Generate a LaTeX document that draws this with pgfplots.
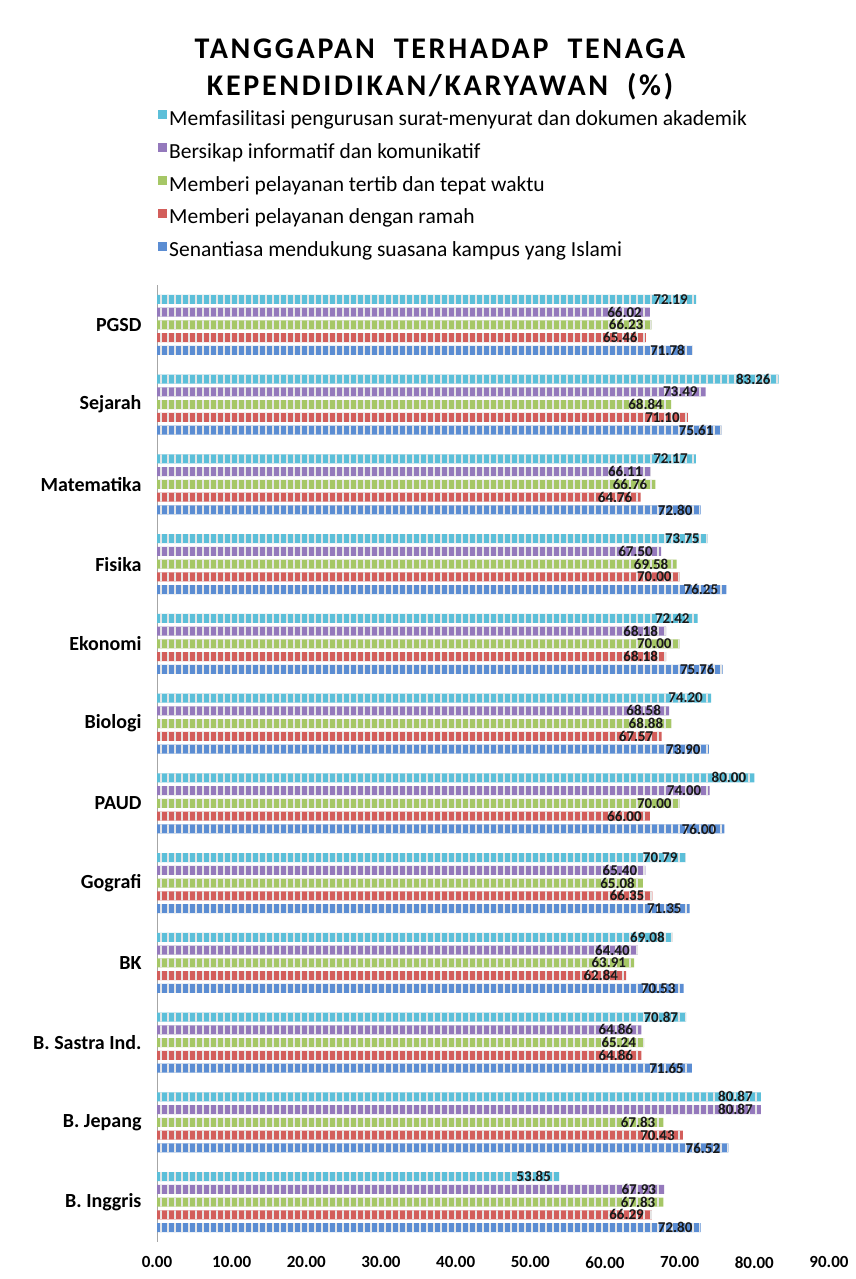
\documentclass[border=0pt]{standalone}
\usepackage{fontspec}
\setmainfont{Carlito}
\newfontfamily\titlefont[LetterSpace=9]{Carlito}
\usepackage{pgfplots}
\pgfplotsset{compat=1.18}
\usetikzlibrary{patterns.meta}
\definecolor{cbar}{HTML}{5CBFD9}
\definecolor{pbar}{HTML}{9479BC}
\definecolor{gbar}{HTML}{A6C766}
\definecolor{rbar}{HTML}{D35E5B}
\definecolor{bbar}{HTML}{5B8DD3}
\makeatletter
\tikzset{nopost/.code={\let\tikz@postactions\pgfutil@empty}}
\makeatother
\begin{document}
\begin{tikzpicture}
\path[use as bounding box] (0,0) rectangle (856pt,1279pt);
\node[font=\titlefont\bfseries\fontsize{30}{37}\selectfont, align=center] at (440pt,1210pt) {TANGGAPAN\ \ TERHADAP\ \ TENAGA\\KEPENDIDIKAN/KARYAWAN\ \ (\%)};
\begin{axis}[
  at={(157pt,37pt)}, anchor=south west,
  scale only axis, width=672pt, height=957pt,
  xbar, bar width=9pt,
  xmin=0, xmax=90, ymin=-0.5, ymax=11.5,
  xtick={0,10,...,90},
  ytick={0,...,11},
  yticklabels={B. Inggris, B. Jepang, B. Sastra Ind., BK, Gografi, PAUD, Biologi, Ekonomi, Fisika, Matematika, Sejarah, PGSD},
  axis lines*=left,
  x axis line style={draw=none},
  y axis line style={draw=gray!70, line width=0.8pt},
  major tick length=0pt,
  xticklabel style={font=\bfseries\fontsize{17}{17}\selectfont, yshift=-11pt, /pgf/number format/.cd, fixed, fixed zerofill, precision=2, assume math mode=true},
  yticklabel style={font=\bfseries\fontsize{20}{20}\selectfont, xshift=-12pt},
  point meta=x,
  nodes near coords={\pgfmathprintnumber[fixed,fixed zerofill,precision=2,assume math mode=true]{\pgfplotspointmeta}},
  every node near coord/.append style={font=\bfseries\fontsize{15}{15}\selectfont, anchor=east, inner sep=0pt, xshift=-8pt, text=black!90},
  every axis plot/.append style={draw=none, postaction={pattern={Lines[angle=90,distance=7pt,line width=1.4pt]}, pattern color=white!80!gray}},
  reverse legend,
  legend cell align=left,
  legend image code/.code={\fill[#1,nopost] (0pt,-1pt) rectangle (9pt,8pt);},
  legend style={at={(-0.003,1.187)}, anchor=north west, draw=none, fill=none, font=\fontsize{21.5}{21.5}\selectfont, row sep=12.5pt},
]
\addplot[fill=bbar, bar shift=-25.6pt] coordinates {(72.80,0) (76.52,1) (71.65,2) (70.53,3) (71.35,4) (76.00,5) (73.90,6) (75.76,7) (76.25,8) (72.80,9) (75.61,10) (71.78,11)};
\addlegendentry{Senantiasa mendukung suasana kampus yang Islami}
\addplot[fill=rbar, bar shift=-12.8pt] coordinates {(66.29,0) (70.43,1) (64.86,2) (62.84,3) (66.35,4) (66.00,5) (67.57,6) (68.18,7) (70.00,8) (64.76,9) (71.10,10) (65.46,11)};
\addlegendentry{Memberi pelayanan dengan ramah}
\addplot[fill=gbar, bar shift=0pt] coordinates {(67.83,0) (67.83,1) (65.24,2) (63.91,3) (65.08,4) (70.00,5) (68.88,6) (70.00,7) (69.58,8) (66.76,9) (68.84,10) (66.23,11)};
\addlegendentry{Memberi pelayanan tertib dan tepat waktu}
\addplot[fill=pbar, bar shift=12.8pt] coordinates {(67.93,0) (80.87,1) (64.86,2) (64.40,3) (65.40,4) (74.00,5) (68.58,6) (68.18,7) (67.50,8) (66.11,9) (73.49,10) (66.02,11)};
\addlegendentry{Bersikap informatif dan komunikatif}
\addplot[fill=cbar, bar shift=25.6pt] coordinates {(53.85,0) (80.87,1) (70.87,2) (69.08,3) (70.79,4) (80.00,5) (74.20,6) (72.42,7) (73.75,8) (72.17,9) (83.26,10) (72.19,11)};
\addlegendentry{Memfasilitasi pengurusan surat-menyurat dan dokumen akademik}
\end{axis}
\end{tikzpicture}
\end{document}
